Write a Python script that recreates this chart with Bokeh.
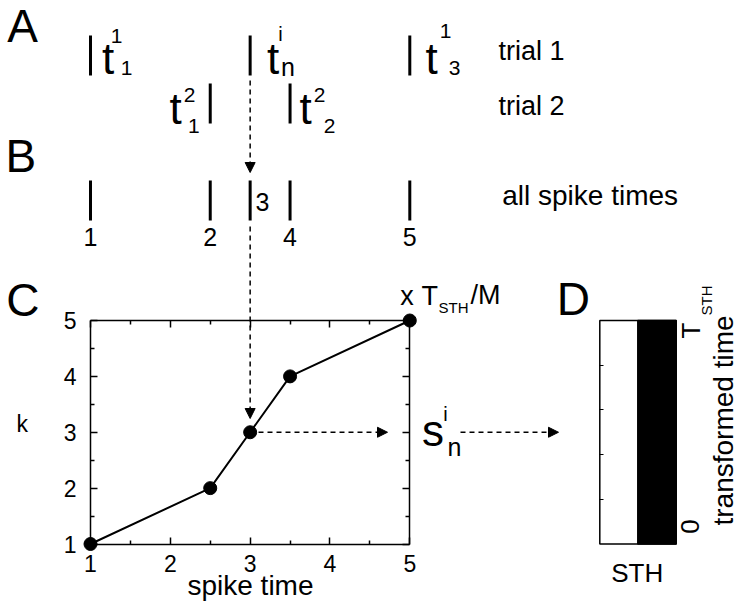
import math
from bokeh.plotting import figure
from bokeh.models import Range1d, LinearAxis, FixedTicker, Arrow, NormalHead
from bokeh.core.properties import value
from bokeh.embed import file_html
from bokeh.resources import INLINE

# ---------------- data ----------------
trial1_times = [1.0, 3.0, 5.0]          # spike times, trial 1
trial2_times = [2.5, 3.5]               # spike times, trial 2
all_times = [1.0, 2.5, 3.0, 3.5, 5.0]   # pooled spike times
ranks = [1, 2, 3, 4, 5]                 # k (rank of each pooled spike)
rank_labels = ["1", "2", "3", "4", "5"]
highlight = 2                           # index of the spike t^i_n
axis_ticks = [1, 2, 3, 4, 5]
axis_minor = [1.5, 2.5, 3.5, 4.5]
sth_ticks = [0.2, 0.4, 0.6, 0.8]        # transformed-time ticks (fraction of T_STH)
sth_range = [0.0, 1.0]                  # 0 .. T_STH

# ---------------- layout ----------------
FONT = "Liberation Sans"
W, H = 739, 610
PAD = 0
AX1, AX5 = 90.0, 409.3     # page x of spike time 1 and 5
AY5, AY1 = 320.0, 543.5    # page y of k = 5 and k = 1
sx = (AX5 - AX1) / 4.0
sy = (AY1 - AY5) / 4.0
x_start = 1 - (AX1 - PAD) / sx
x_end = x_start + W / sx
y_end = 5 + (AY5 - PAD) / sy
y_start = y_end - H / sy
BASE_FIX = 0.35   # baseline correction (em) for the text glyph


def X(ix):
    return x_start + (ix - PAD) / sx


def Y(iy):
    return y_end - (iy - PAD) / sy


p = figure(width=W, height=H, x_range=Range1d(x_start, x_end),
           y_range=Range1d(y_start, y_end), output_backend="svg",
           toolbar_location=None, min_border=0, x_axis_location=None,
           y_axis_location=None, outline_line_color=None,
           background_fill_color="white", border_fill_color="white")
p.grid.visible = False


def T(ix, iy, s, size, align="left", angle=0.0):
    if angle == 0.0:
        iy = iy - BASE_FIX * size
    else:
        ix = ix - BASE_FIX * size
    p.text(x=[X(ix)], y=[Y(iy)], text=[s], text_font=value(FONT),
           text_font_size=f"{size}px", text_align=align,
           text_baseline="alphabetic", angle=angle, text_color="black")


# ---------------- panel C axes (box) ----------------
def c_axis(side, loc, labels, standoff=10):
    ax = LinearAxis(fixed_location=loc, bounds=(1, 5),
                    ticker=FixedTicker(ticks=axis_ticks, minor_ticks=axis_minor),
                    major_tick_in=7, major_tick_out=0,
                    minor_tick_in=4, minor_tick_out=0,
                    axis_line_width=1.5, major_tick_line_width=1.5,
                    minor_tick_line_width=1.5,
                    major_label_text_font=FONT,
                    major_label_text_font_size="23px",
                    major_label_text_color="black",
                    major_label_standoff=standoff)
    if not labels:
        ax.major_label_text_color = None
    p.add_layout(ax, side)
    return ax


c_axis("left", 1, True, standoff=14)
c_axis("below", 1, True, standoff=11)
c_axis("right", 5, False)
c_axis("above", 5, False)

# curve k(spike time)
p.line(all_times, ranks, line_width=2, color="black")
p.scatter(all_times, ranks, size=13, color="black")

# ---------------- panel A rasters ----------------
p.segment(x0=trial1_times, y0=[Y(75)] * len(trial1_times),
          x1=trial1_times, y1=[Y(35)] * len(trial1_times),
          line_width=3, color="black")
p.segment(x0=trial2_times, y0=[Y(123)] * len(trial2_times),
          x1=trial2_times, y1=[Y(83)] * len(trial2_times),
          line_width=3, color="black")
# ---------------- panel B pooled ----------------
p.segment(x0=all_times, y0=[Y(220)] * len(all_times),
          x1=all_times, y1=[Y(180)] * len(all_times),
          line_width=3, color="black")
below = [i for i in range(len(all_times)) if i != highlight]
p.text(x=[all_times[i] for i in below], y=[Y(245 - BASE_FIX * 25)] * len(below),
       text=[rank_labels[i] for i in below], text_font=value(FONT),
       text_font_size="25px", text_align="center", text_baseline="alphabetic")
T(262, 210, rank_labels[highlight], 25, align="center")

# spike labels
def tlabel(cx, by, sup, sub, sx_, sby, bx_, bby, subsize=21, supsize=21):
    T(cx, by, "t", 44, align="center")
    T(sx_, sby, sup, supsize, align="center")
    T(bx_, bby, sub, subsize, align="center")


tlabel(107.5, 73.5, "1", "1", 116, 43.3, 126, 75)
tlabel(272.5, 73.5, "i", "n", 280, 40, 287.5, 75, subsize=25, supsize=20)
tlabel(431, 73.5, "1", "3", 445, 38.3, 454, 75)
tlabel(175, 123.3, "2", "1", 189, 101.7, 193.3, 133.3)
tlabel(305, 123.3, "2", "2", 319, 102, 329, 133)

T(498, 60, "trial 1", 27)
T(498, 115, "trial 2", 27)
T(501.7, 205, "all spike times", 28)

# ---------------- arrows ----------------
def arrow(x0, y0, x1, y1):
    p.add_layout(Arrow(end=NormalHead(size=10, fill_color="black", line_color="black",
                                      line_width=1),
                       x_start=x0, y_start=y0, x_end=x1, y_end=y1,
                       line_dash="5 4", line_width=1.5, line_color="black"))


arrow(all_times[highlight], Y(80), all_times[highlight], Y(172))
arrow(all_times[highlight], Y(226), all_times[highlight], Y(418))
arrow(X(258), ranks[highlight], X(387), ranks[highlight])
arrow(X(460), ranks[highlight], X(558), ranks[highlight])

# s^i_n
T(432.5, 445, "s", 44, align="center")
T(445, 420, "i", 20, align="center")
T(454, 455, "n", 25, align="center")

# x T_STH / M
T(406.5, 305, "x", 27, align="center")
T(421, 305, "T", 27)
T(438, 312, "STH", 15)
T(470, 304, "/M", 27)

# k and spike time labels
T(21.7, 431.7, "k", 23, align="center")
T(250, 595, "spike time", 28, align="center")

# ---------------- panel D ----------------
p.extra_y_ranges = {"tt": Range1d((y_start - 1) / 4.0, (y_end - 1) / 4.0)}
p.quad(left=[X(599.3)], right=[X(675.7)], bottom=[sth_range[0]], top=[sth_range[1]],
       y_range_name="tt", fill_color="white", line_color="black", line_width=1.5)
p.quad(left=[X(637.3)], right=[X(675.7)], bottom=[sth_range[0]], top=[sth_range[1]],
       y_range_name="tt", fill_color="black", line_color="black", line_width=1.5)
dax = LinearAxis(y_range_name="tt", fixed_location=X(599.3), bounds=(0, 1),
                 ticker=FixedTicker(ticks=sth_ticks), major_tick_in=4,
                 major_tick_out=0, minor_tick_in=0, minor_tick_out=0,
                 axis_line_color=None, major_tick_line_width=1.2,
                 major_label_text_color=None)
p.add_layout(dax, "left")

T(636.7, 582, "STH", 26, align="center")
T(700, 338, "T", 26, align="left", angle=math.pi / 2)
T(711, 315, "STH", 15, align="left", angle=math.pi / 2)
T(699, 526, "0", 26, align="center", angle=math.pi / 2)
T(733, 420, "transformed time", 28, align="center", angle=math.pi / 2)

# panel letters
T(6.7, 42, "A", 46)
T(5, 172, "B", 46)
T(5.7, 316, "C", 46)
T(556.3, 315, "D", 46)

open("out.html", "w").write(file_html(p, INLINE))
